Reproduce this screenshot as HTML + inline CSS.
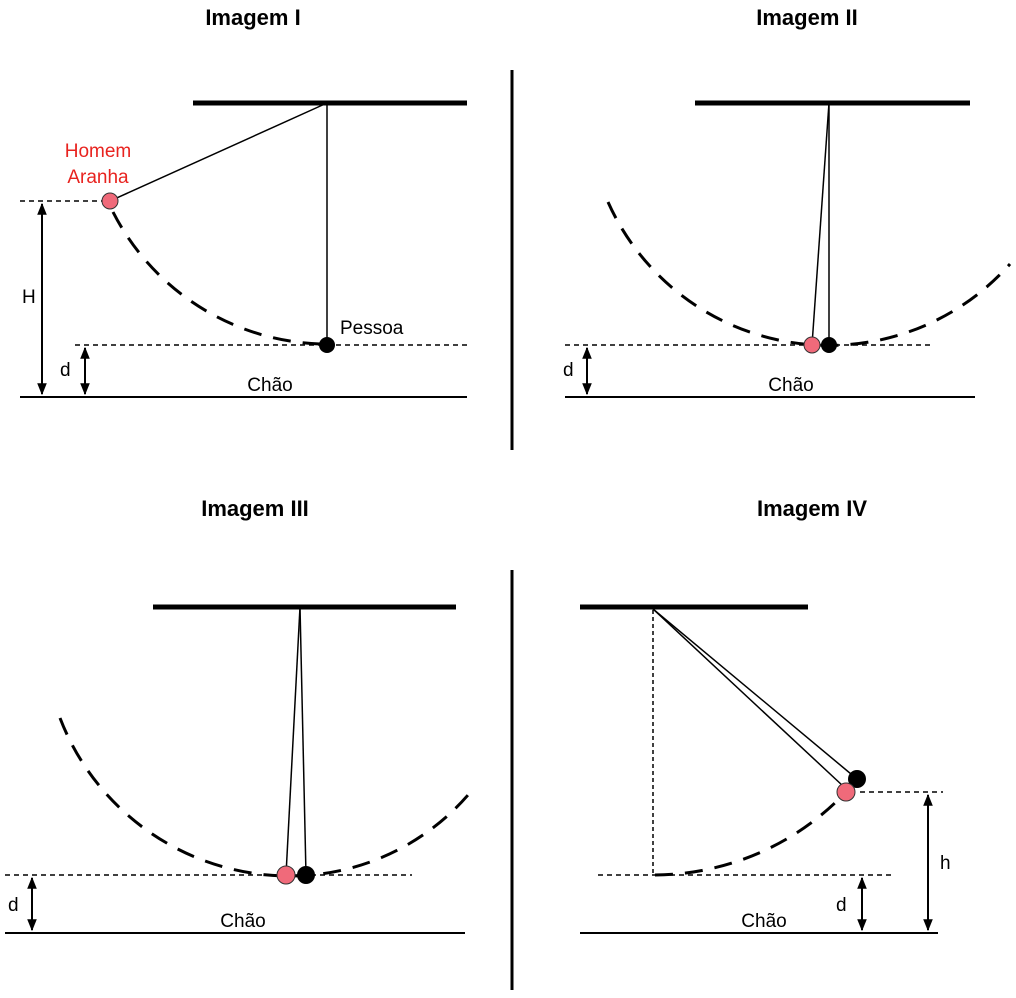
<!DOCTYPE html>
<html><head><meta charset="utf-8"><style>html,body{margin:0;padding:0;background:#fff}svg{display:block}</style></head>
<body>
<svg width="1016" height="998" viewBox="0 0 1016 998" xmlns="http://www.w3.org/2000/svg" font-family="Liberation Sans, Arial, sans-serif">
<defs>
<marker id="a" viewBox="0 0 10 10" refX="9" refY="5" markerWidth="6" markerHeight="7" orient="auto-start-reverse"><path d="M0,1 L10,5 L0,9 z" fill="#000"/></marker>
</defs>
<g font-weight="bold" font-size="22" text-anchor="middle">
<text x="253" y="25">Imagem I</text>
<text x="807" y="25">Imagem II</text>
<text x="255" y="516">Imagem III</text>
<text x="812" y="516">Imagem IV</text>
</g>
<g stroke="#000" stroke-width="3"><line x1="512" y1="70" x2="512" y2="450"/><line x1="512" y1="570" x2="512" y2="990"/></g>

<!-- Image I -->
<line x1="193" y1="103" x2="467" y2="103" stroke="#000" stroke-width="5"/>
<line x1="327" y1="103" x2="327" y2="345" stroke="#000" stroke-width="1.5"/>
<line x1="327" y1="103" x2="110" y2="201" stroke="#000" stroke-width="1.5"/>
<path d="M113,212 A242,242 0 0 0 320,344" fill="none" stroke="#000" stroke-width="3" stroke-dasharray="18,12"/>
<g stroke="#000" stroke-width="1.5" stroke-dasharray="5,4" fill="none"><line x1="75" y1="345" x2="467" y2="345"/><line x1="20" y1="201" x2="105" y2="201"/></g>
<line x1="20" y1="397" x2="467" y2="397" stroke="#000" stroke-width="2"/>
<line x1="42" y1="204" x2="42" y2="394" stroke="#000" stroke-width="2" marker-start="url(#a)" marker-end="url(#a)"/>
<line x1="85" y1="348" x2="85" y2="394" stroke="#000" stroke-width="2" marker-start="url(#a)" marker-end="url(#a)"/>
<circle cx="110" cy="201" r="8" fill="#f06a7a" stroke="#333"/>
<circle cx="327" cy="345" r="8" fill="#000"/>
<text x="22" y="303" font-size="19">H</text>
<text x="60" y="376" font-size="19">d</text>
<text x="270" y="391" font-size="19" text-anchor="middle">Chão</text>
<text x="340" y="334" font-size="19">Pessoa</text>
<text x="98" y="157" font-size="19" fill="#e8231f" text-anchor="middle">Homem</text>
<text x="98" y="183" font-size="19" fill="#e8231f" text-anchor="middle">Aranha</text>

<!-- Image II -->
<line x1="695" y1="103" x2="970" y2="103" stroke="#000" stroke-width="5"/>
<line x1="829" y1="103" x2="829" y2="345" stroke="#000" stroke-width="1.5"/>
<line x1="829" y1="103" x2="812" y2="345" stroke="#000" stroke-width="1.5"/>
<path d="M608,202 A242,242 0 0 0 1010,264" fill="none" stroke="#000" stroke-width="3" stroke-dasharray="18,12"/>
<line x1="565" y1="345" x2="930" y2="345" stroke="#000" stroke-width="1.5" stroke-dasharray="5,4"/>
<line x1="565" y1="397" x2="975" y2="397" stroke="#000" stroke-width="2"/>
<line x1="587" y1="348" x2="587" y2="394" stroke="#000" stroke-width="2" marker-start="url(#a)" marker-end="url(#a)"/>
<circle cx="812" cy="345" r="8" fill="#f06a7a" stroke="#333"/>
<circle cx="829" cy="345" r="8" fill="#000"/>
<text x="563" y="376" font-size="19">d</text>
<text x="791" y="391" font-size="19" text-anchor="middle">Chão</text>

<!-- Image III -->
<line x1="153" y1="607" x2="456" y2="607" stroke="#000" stroke-width="5"/>
<line x1="300" y1="607" x2="306" y2="875" stroke="#000" stroke-width="1.5"/>
<line x1="300" y1="607" x2="286" y2="875" stroke="#000" stroke-width="1.5"/>
<path d="M60,718 A246,246 0 0 0 290,876 A236,236 0 0 0 468,795" fill="none" stroke="#000" stroke-width="3" stroke-dasharray="18,12"/>
<line x1="5" y1="875" x2="412" y2="875" stroke="#000" stroke-width="1.5" stroke-dasharray="5,4"/>
<line x1="5" y1="933" x2="465" y2="933" stroke="#000" stroke-width="2"/>
<line x1="32" y1="878" x2="32" y2="930" stroke="#000" stroke-width="2" marker-start="url(#a)" marker-end="url(#a)"/>
<circle cx="286" cy="875" r="9" fill="#f06a7a" stroke="#333"/>
<circle cx="306" cy="875" r="9" fill="#000"/>
<text x="8" y="911" font-size="19">d</text>
<text x="243" y="927" font-size="19" text-anchor="middle">Chão</text>

<!-- Image IV -->
<line x1="580" y1="607" x2="808" y2="607" stroke="#000" stroke-width="5"/>
<line x1="653" y1="610" x2="653" y2="875" stroke="#000" stroke-width="1.5" stroke-dasharray="4,3"/>
<line x1="653" y1="609" x2="857" y2="779" stroke="#000" stroke-width="1.5"/>
<line x1="653" y1="609" x2="843" y2="786" stroke="#000" stroke-width="1.5"/>
<path d="M655,875 A265,265 0 0 0 838,800" fill="none" stroke="#000" stroke-width="3" stroke-dasharray="18,12"/>
<g stroke="#000" stroke-width="1.5" stroke-dasharray="5,4"><line x1="598" y1="875" x2="892" y2="875"/><line x1="860" y1="792" x2="943" y2="792"/></g>
<line x1="580" y1="933" x2="938" y2="933" stroke="#000" stroke-width="2"/>
<line x1="862" y1="878" x2="862" y2="930" stroke="#000" stroke-width="2" marker-start="url(#a)" marker-end="url(#a)"/>
<line x1="928" y1="795" x2="928" y2="930" stroke="#000" stroke-width="2" marker-start="url(#a)" marker-end="url(#a)"/>
<circle cx="857" cy="779" r="9" fill="#000"/>
<circle cx="846" cy="792" r="9" fill="#f06a7a" stroke="#333"/>
<text x="836" y="911" font-size="19">d</text>
<text x="940" y="869" font-size="19">h</text>
<text x="764" y="927" font-size="19" text-anchor="middle">Chão</text>
</svg>
</body></html>
